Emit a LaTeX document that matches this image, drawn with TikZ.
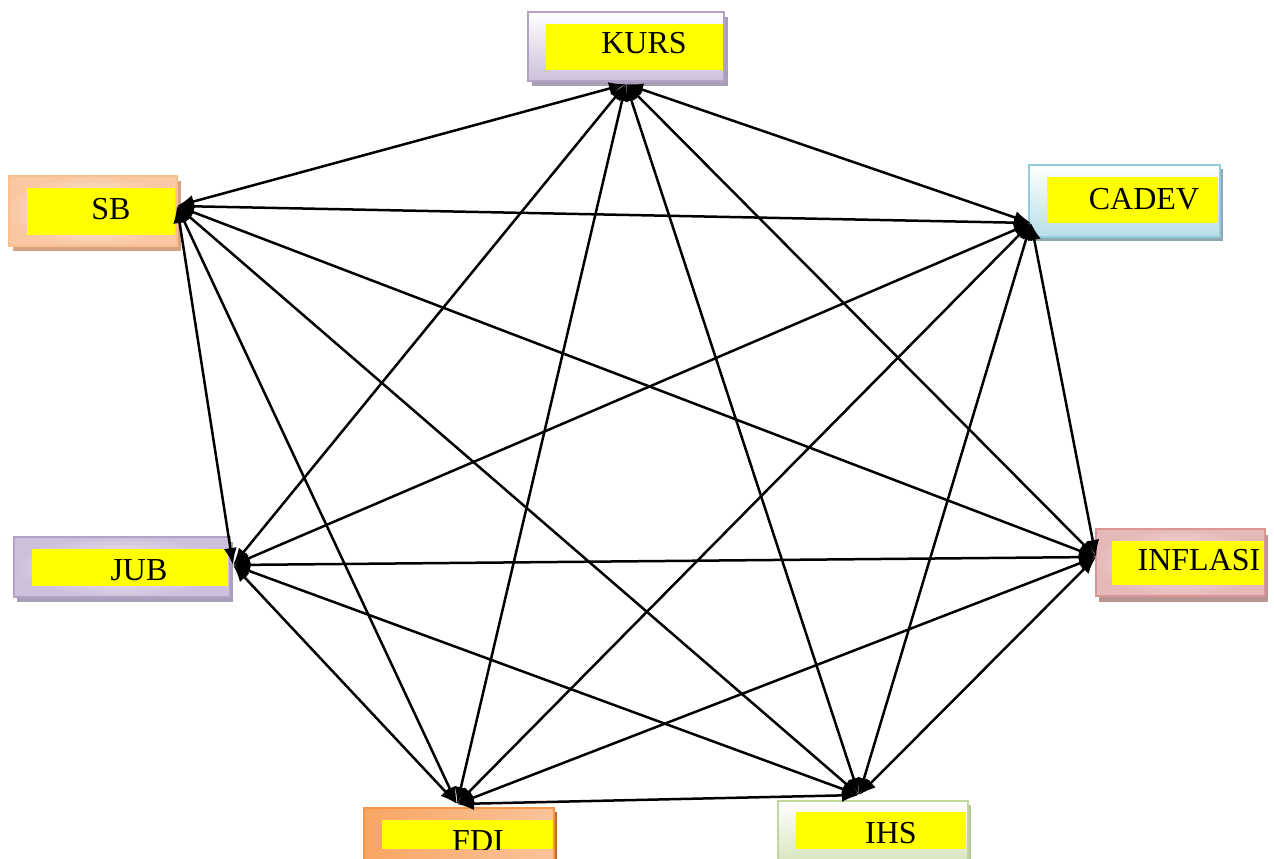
\documentclass[tikz,border=0pt]{standalone}
\usepackage{fontspec}
\setmainfont{Liberation Serif}
\usetikzlibrary{arrows.meta,shadows}

% frame colours
\definecolor{kursline}{HTML}{B3A2C7}
\definecolor{kursfill}{HTML}{CCC0DA}
\definecolor{kursshade}{HTML}{A89EB8}
\definecolor{sbline}{HTML}{FAC090}
\definecolor{sbfill}{HTML}{F9C8A2}
\definecolor{sbshade}{HTML}{D4A482}
\definecolor{cadline}{HTML}{93CDDD}
\definecolor{cadfill}{HTML}{B7DEE8}
\definecolor{cadshade}{HTML}{8FA9B0}
\definecolor{infline}{HTML}{D99694}
\definecolor{inffill}{HTML}{E6B9B8}
\definecolor{infshade}{HTML}{B89492}
\definecolor{fdiline}{HTML}{F79646}
\definecolor{fdifill}{HTML}{F9B482}
\definecolor{fdishade}{HTML}{C4692C}
\definecolor{ihsline}{HTML}{C3D69B}
\definecolor{ihsfill}{HTML}{D7E4BC}
\definecolor{ihsshade}{HTML}{B7C49E}
\definecolor{label}{HTML}{FFFF00}

\tikzset{
  frame/.style={rectangle, inner sep=0pt, line width=2pt},
  tag/.style={rectangle, inner sep=0pt, fill=label},
  word/.style={inner sep=0pt, anchor=base, font=\fontsize{32}{37}\selectfont},
  link/.style={line width=2.5pt, {Latex[length=17pt,width=13pt]}-{Latex[length=17pt,width=13pt]}},
}

\begin{document}
\begin{tikzpicture}[x=1pt,y=-1pt]
\useasboundingbox (0,0) rectangle (1274,859);
\clip (0,0) rectangle (1274,859);
\fill[white] (0,0) rectangle (1274,859);

% ---- boxes ----
% KURS
\node[frame, draw=kursline, top color=white, bottom color=kursfill,
      general shadow={fill=kursshade, shadow xshift=4pt, shadow yshift=-5pt},
      minimum width=196pt, minimum height=69pt] (kurs) at (626,46.5) {};
\node[tag, minimum width=177pt, minimum height=46pt] (kurs-tag) at (634.5,47) {};
\node[word] (kurs-txt) at (644,54) {KURS};

% SB
\node[frame, draw=sbline, inner color=white!80!sbfill, outer color=sbfill,
      general shadow={fill=sbshade, shadow xshift=4pt, shadow yshift=-5pt},
      minimum width=168pt, minimum height=70pt] (sb) at (93,211) {};
\node[tag, minimum width=148pt, minimum height=47pt] (sb-tag) at (101,211.5) {};
\node[word] (sb-txt) at (111,219) {SB};

% CADEV
\node[frame, draw=cadline, top color=white, bottom color=cadfill,
      general shadow={fill=cadshade, shadow xshift=3pt, shadow yshift=-4pt},
      minimum width=191pt, minimum height=72pt] (cadev) at (1124.5,201) {};
\node[tag, minimum width=171pt, minimum height=46pt] (cadev-tag) at (1132.5,200) {};
\node[word] (cadev-txt) at (1144,209) {CADEV};

% JUB
\node[frame, draw=kursline, inner color=white!85!kursfill, outer color=kursfill,
      general shadow={fill=kursshade, shadow xshift=3pt, shadow yshift=-5pt},
      minimum width=216pt, minimum height=60pt] (jub) at (122,567) {};
\node[tag, minimum width=196pt, minimum height=37pt] (jub-tag) at (130,567.5) {};
\node[word] (jub-txt) at (139,580) {JUB};

% INFLASI
\node[frame, draw=infline, inner color=white!75!inffill, outer color=inffill,
      general shadow={fill=infshade, shadow xshift=3pt, shadow yshift=-6pt},
      minimum width=169pt, minimum height=67pt] (inflasi) at (1180.5,562.5) {};
\node[tag, minimum width=152pt, minimum height=44pt] (inflasi-tag) at (1188,563) {};
\node[word] (inflasi-txt) at (1199,570) {INFLASI};

% FDI
\node[frame, draw=fdiline, left color=fdiline!85!white, right color=fdifill!80!white,
      general shadow={fill=fdishade, shadow xshift=3pt, shadow yshift=-4pt},
      minimum width=190pt, minimum height=62pt] (fdi) at (459,839) {};
\node[tag, minimum width=171pt, minimum height=29pt] (fdi-tag) at (467.5,834.5) {};
\begin{scope}
  \clip (fdi-tag.north west) rectangle (fdi-tag.south east);
  \node[word] (fdi-txt) at (478,851) {FDI};
\end{scope}

% IHS
\node[frame, draw=ihsline, top color=white, bottom color=ihsfill,
      general shadow={fill=ihsshade, shadow xshift=3pt, shadow yshift=-4pt},
      minimum width=190pt, minimum height=64pt] (ihs) at (873,833) {};
\node[tag, minimum width=170pt, minimum height=37pt] (ihs-tag) at (881,830.5) {};
\node[word] (ihs-txt) at (891,843) {IHS};

% ---- connector ends ----
\coordinate (kurs-p) at (626,84);
\coordinate (sb-p) at (177,206);
\coordinate (cadev-p) at (1031,223);
\coordinate (jub-p) at (233,565);
\coordinate (inflasi-p) at (1096,557);
\coordinate (fdi-p) at (457,804);
\coordinate (ihs-p) at (859,795);

% ---- every pair is linked both ways ----
\foreach \a/\b in {kurs/sb, kurs/cadev, kurs/jub, kurs/inflasi, kurs/fdi, kurs/ihs,
                   sb/cadev, sb/jub, sb/inflasi, sb/fdi, sb/ihs,
                   cadev/jub, cadev/inflasi, cadev/fdi, cadev/ihs,
                   jub/inflasi, jub/fdi, jub/ihs,
                   inflasi/fdi, inflasi/ihs,
                   fdi/ihs}
  \draw[link] (\a-p) -- (\b-p);
\end{tikzpicture}
\end{document}
